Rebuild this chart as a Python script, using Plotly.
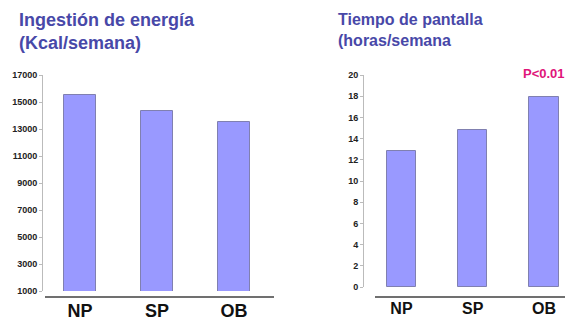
import plotly.graph_objects as go

# Data
groups = ["NP", "SP", "OB"]
energia_kcal = [15500, 14300, 13500]      # Ingestión de energía (Kcal/semana)
pantalla_horas = [12.8, 14.8, 17.9]       # Tiempo de pantalla (horas/semana)
energia_ticks = [1000, 3000, 5000, 7000, 9000, 11000, 13000, 15000, 17000]
pantalla_ticks = [0, 2, 4, 6, 8, 10, 12, 14, 16, 18, 20]

W, H = 565, 320
BAR_FILL = "#9999FF"
BAR_EDGE = "#8080B0"
TITLE_COLOR = "#4848A8"
TICK_FONT = dict(family="Liberation Sans Narrow, Arial Narrow, Liberation Sans, sans-serif",
                 size=9, color="#222222")


def px_x(p):
    return p / W


def px_y(p):
    return 1 - p / H


def bold(vals):
    return [f"<b>{v}</b>" for v in vals]


fig = go.Figure()

fig.add_trace(go.Bar(
    x=[0, 1, 2], y=energia_kcal, base=0, width=0.42,
    marker=dict(color=BAR_FILL, line=dict(color=BAR_EDGE, width=1)),
    xaxis="x", yaxis="y", showlegend=False,
))
fig.add_trace(go.Bar(
    x=[0, 1, 2], y=pantalla_horas, width=0.41,
    marker=dict(color=BAR_FILL, line=dict(color=BAR_EDGE, width=1)),
    xaxis="x2", yaxis="y2", showlegend=False,
))

yaxis_common = dict(
    showline=True, linecolor="#BBBBBB", linewidth=1,
    ticks="outside", ticklen=3, tickcolor="#BBBBBB",
    showgrid=False, zeroline=False, tickfont=TICK_FONT,
    tickmode="array", automargin=False,
)
xaxis_common = dict(
    showline=False, showgrid=False, zeroline=False, ticks="",
    tickmode="array", tickvals=[0, 1, 2], ticktext=bold(groups),
    automargin=False,
)

fig.update_layout(
    width=W, height=H,
    margin=dict(l=0, r=0, t=0, b=0, autoexpand=False),
    paper_bgcolor="white", plot_bgcolor="white",
    bargap=0,
    xaxis=dict(domain=[px_x(43), px_x(275)], range=[-0.48, 2.533],
               tickfont=dict(family="Liberation Sans, Arial, sans-serif", size=18, color="#111111"),
               ticklabelstandoff=7, anchor="y", **xaxis_common),
    yaxis=dict(domain=[px_y(291), px_y(75)], range=[1000, 17000],
               tickvals=energia_ticks, ticktext=bold(energia_ticks),
               anchor="x", **yaxis_common),
    xaxis2=dict(domain=[px_x(364), 1.0], range=[-0.526, 2.295],
                tickfont=dict(family="Liberation Sans, Arial, sans-serif", size=16, color="#111111"),
                ticklabelstandoff=10, anchor="y2", **xaxis_common),
    yaxis2=dict(domain=[px_y(287), px_y(75)], range=[0, 20],
                tickvals=pantalla_ticks, ticktext=bold(pantalla_ticks),
                anchor="x2", **yaxis_common),
    font=dict(family="Liberation Sans, Arial, sans-serif"),
)

# Baselines under the bars
fig.add_shape(type="line", xref="paper", yref="paper",
              x0=px_x(45), x1=px_x(274), y0=px_y(297), y1=px_y(297),
              line=dict(color="#707070", width=2))
fig.add_shape(type="line", xref="paper", yref="paper",
              x0=px_x(375), x1=1.0, y0=px_y(297), y1=px_y(297),
              line=dict(color="#707070", width=2))

# Panel titles
fig.add_annotation(xref="paper", yref="paper", x=px_x(17), y=px_y(8),
                   xanchor="left", yanchor="top", align="left", showarrow=False,
                   text="<b>Ingestión de energía<br>(Kcal/semana)</b>",
                   font=dict(size=18, color=TITLE_COLOR))
fig.add_annotation(xref="paper", yref="paper", x=px_x(336), y=px_y(9),
                   xanchor="left", yanchor="top", align="left", showarrow=False,
                   text="<b>Tiempo de pantalla<br>(horas/semana</b>",
                   font=dict(size=16, color=TITLE_COLOR))

# Significance label over OB
fig.add_annotation(xref="x2", yref="paper", x=2, y=px_y(74),
                   xanchor="center", yanchor="middle", showarrow=False,
                   text="<b>P<0.01</b>",
                   font=dict(size=13, color="#E0157A"))

fig.write_html("out.html")
